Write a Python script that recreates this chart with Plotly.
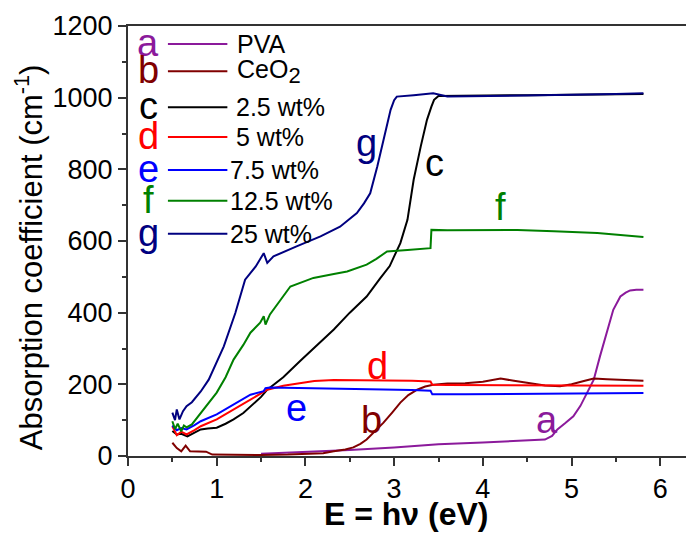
import plotly.graph_objects as go

# ---------------- data ----------------
a_x = [1.5, 1.8, 2.0, 2.5, 3.0, 3.5, 4.0, 4.3, 4.6, 4.7, 4.78, 4.84, 4.93, 5.02, 5.1, 5.17, 5.25, 5.32, 5.4, 5.47, 5.55, 5.61, 5.66, 5.73, 5.81]
a_y = [6, 9, 11, 17, 24, 33, 38, 41, 43, 46, 56, 74, 92, 111, 140, 176, 213, 278, 344, 408, 445, 456, 462, 464, 464]

b_x = [0.5, 0.55, 0.6, 0.65, 0.7, 0.8, 0.88, 0.95, 1.2, 1.5, 1.8, 2.0, 2.2, 2.32, 2.45, 2.54, 2.62, 2.69, 2.78, 2.88, 2.98, 3.07, 3.16, 3.26, 3.35, 3.44, 3.6, 3.8, 4.0, 4.2, 4.35, 4.5, 4.7, 4.87, 5.0, 5.15, 5.25, 5.4, 5.55, 5.7, 5.81]
b_y = [37, 22, 13, 29, 13, 13, 12, 4, 3, 3, 4, 5, 8, 13, 18, 24, 34, 46, 68, 93, 122, 149, 170, 185, 194, 199, 202, 203, 207, 216, 210, 204, 197, 195, 200, 210, 216, 214, 212, 211, 210]

c_x = [0.5, 0.55, 0.6, 0.67, 0.75, 0.82, 0.9, 1.0, 1.1, 1.19, 1.3, 1.38, 1.5, 1.57, 1.75, 1.94, 2.1, 2.32, 2.5, 2.69, 2.84, 2.95, 3.0, 3.07, 3.15, 3.22, 3.3, 3.37, 3.42, 3.45, 3.5, 3.6, 3.8, 4.0, 4.5, 5.0, 5.5, 5.81]
c_y = [70, 60, 62, 55, 65, 74, 77, 79, 90, 102, 120, 139, 165, 185, 220, 265, 303, 353, 400, 445, 495, 530, 557, 594, 659, 771, 864, 938, 975, 994, 1005, 1005, 1005, 1006, 1007, 1008, 1009, 1010]

d_x = [0.5, 0.55, 0.6, 0.66, 0.75, 0.82, 1.0, 1.19, 1.38, 1.57, 1.75, 1.94, 2.1, 2.32, 2.6, 2.9, 3.2, 3.41, 3.43, 3.6, 4.0, 4.5, 5.0, 5.5, 5.81]
d_y = [83, 58, 68, 60, 72, 83, 102, 130, 157, 185, 196, 204, 209, 212, 212, 211, 210, 208, 199, 198, 198, 197, 197, 196, 196]

e_x = [0.5, 0.55, 0.6, 0.66, 0.75, 0.82, 1.0, 1.19, 1.38, 1.53, 1.55, 1.6, 1.9, 2.3, 2.8, 3.2, 3.41, 3.43, 3.8, 4.3, 4.8, 5.3, 5.81]
e_y = [85, 72, 78, 74, 86, 97, 116, 144, 171, 181, 189, 191, 190, 188, 186, 184, 182, 172, 172, 173, 174, 175, 176]

f_x = [0.5, 0.53, 0.56, 0.6, 0.63, 0.66, 0.72, 0.82, 0.9, 1.0, 1.1, 1.19, 1.3, 1.38, 1.49, 1.53, 1.55, 1.6, 1.83, 2.09, 2.32, 2.47, 2.69, 2.8, 2.92, 3.05, 3.15, 3.41, 3.42, 3.6, 4.0, 4.39, 4.8, 5.29, 5.81]
f_y = [97, 75, 90, 69, 85, 80, 88, 121, 145, 177, 220, 269, 310, 344, 372, 390, 367, 395, 473, 497, 508, 515, 534, 550, 571, 574, 575, 580, 631, 630, 630, 631, 627, 622, 611]

g_x = [0.5, 0.53, 0.55, 0.58, 0.62, 0.66, 0.72, 0.82, 0.91, 1.0, 1.08, 1.21, 1.32, 1.44, 1.51, 1.53, 1.57, 1.64, 1.9, 2.17, 2.39, 2.58, 2.66, 2.73, 2.81, 2.88, 2.96, 3.0, 3.03, 3.22, 3.44, 3.6, 4.0, 4.5, 5.0, 5.5, 5.81]
g_y = [121, 100, 130, 102, 125, 139, 150, 180, 213, 262, 306, 399, 492, 529, 557, 566, 539, 557, 585, 613, 640, 678, 705, 733, 808, 882, 966, 993, 1003, 1007, 1012, 1003, 1004, 1006, 1008, 1010, 1012]

letters = ["a", "b", "c", "d", "e", "f", "g"]
names = ["PVA", "CeO<sub><span style=\"font-size:22px\">2</span></sub>", "2.5 wt%", "5 wt%", "7.5 wt%", "12.5 wt%", "25 wt%"]
colors = ["#8B1A9B", "#800000", "#000000", "#FF0000", "#0000FF", "#008000", "#000080"]
legend_y = [1150, 1074, 973, 890, 798, 712, 620]
legend_text_x = [1.21, 1.21, 1.19, 1.19, 1.13, 1.13, 1.13]
label_x = [4.72, 2.75, 3.46, 2.81, 1.9, 4.2, 2.69]
label_y = [101, 101, 818, 250, 135, 696, 873]

series_x = [a_x, b_x, c_x, d_x, e_x, f_x, g_x]
series_y = [a_y, b_y, c_y, d_y, e_y, f_y, g_y]

FONT = "Liberation Sans"

fig = go.Figure()
for sx, sy, col in zip(series_x, series_y, colors):
    fig.add_trace(go.Scatter(x=sx, y=sy, mode="lines", line=dict(color=col, width=2), showlegend=False))

# manual legend
for lt, nm, col, ly, tx in zip(letters, names, colors, legend_y, legend_text_x):
    fig.add_trace(go.Scatter(x=[0.45, 1.12], y=[ly, ly], mode="lines", line=dict(color=col, width=2), showlegend=False, hoverinfo="skip"))
    fig.add_annotation(x=0.23, y=ly, text=lt, showarrow=False, font=dict(family=FONT, size=38, color=col), xanchor="center", yanchor="middle", yshift=1)
    fig.add_annotation(x=tx, y=ly, text=nm, showarrow=False, font=dict(family=FONT, size=25, color="#000"), xanchor="left", yanchor="middle")

for lt, col, lx, ly in zip(letters, colors, label_x, label_y):
    fig.add_annotation(x=lx, y=ly, text=lt, showarrow=False, font=dict(family=FONT, size=38, color=col), xanchor="center", yanchor="middle")

fig.add_annotation(xref="paper", yref="paper", x=-0.175, y=0.462, text="Absorption coefficient (cm<sup>-1</sup>)",
                   textangle=-90, showarrow=False, font=dict(family=FONT, size=31, color="#000"), xanchor="center", yanchor="middle")
fig.add_annotation(xref="paper", yref="paper", x=0.492, y=-0.134, text="<b>E = h\u03bd (eV)</b>",
                   showarrow=False, font=dict(family=FONT, size=32, color="#000"), xanchor="center", yanchor="middle")

fig.update_layout(
    width=686, height=528,
    margin=dict(l=120, r=0, t=18, b=80),
    paper_bgcolor="white", plot_bgcolor="white",
    font=dict(family=FONT, size=27, color="#000"),
    xaxis=dict(range=[0, 6.38], tickmode="array", tickvals=[0, 1, 2, 3, 4, 5, 6], ticktext=["0", "1", "2", "3", "4", "5", "6"],
               ticks="outside", ticklen=8, tickwidth=1.5, tickcolor="#333", showgrid=False, zeroline=False,
               showline=True, linecolor="#333", linewidth=2, mirror=True,
               minor=dict(dtick=0.5, ticks="outside", ticklen=4, tickcolor="#333", tickwidth=1.5),
               tickfont=dict(family=FONT, size=27)),
    yaxis=dict(range=[0, 1200], tickmode="array", tickvals=[0, 200, 400, 600, 800, 1000, 1200],
               ticks="outside", ticklen=8, tickwidth=1.5, tickcolor="#333", showgrid=False, zeroline=False,
               showline=True, linecolor="#333", linewidth=2,
               minor=dict(dtick=100, ticks="outside", ticklen=4, tickcolor="#333", tickwidth=1.5),
               tickfont=dict(family=FONT, size=27)),
)

fig.write_html("out.html")
